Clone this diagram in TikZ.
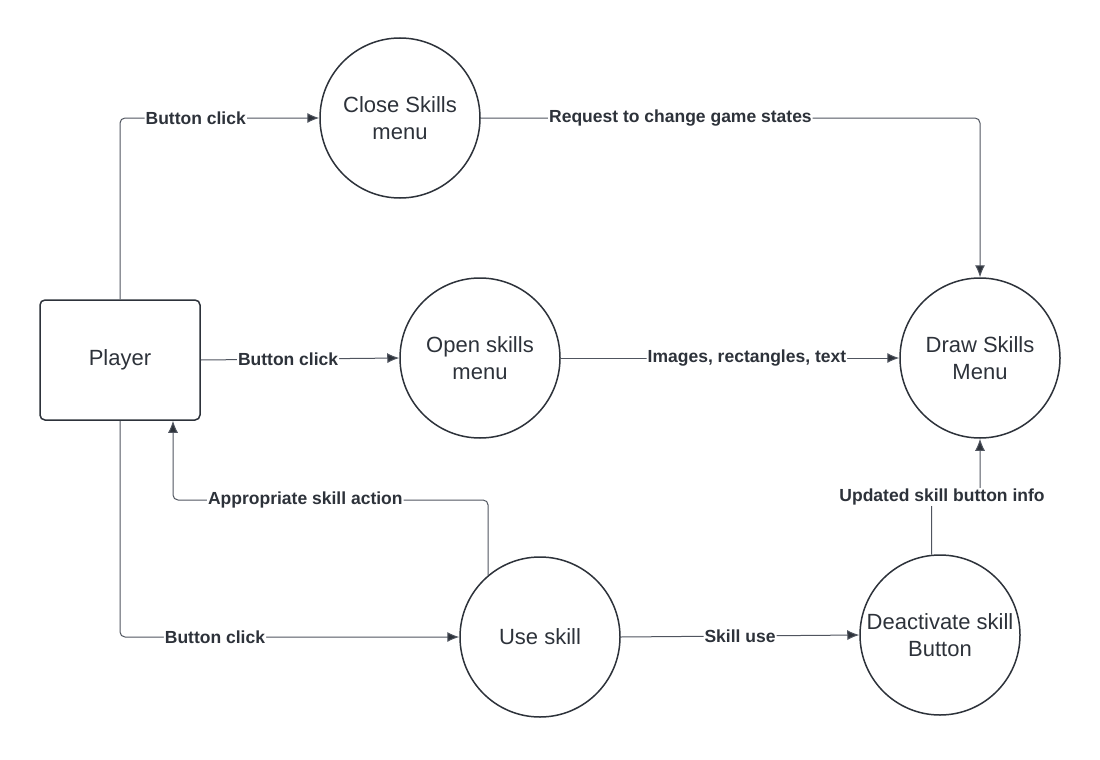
\documentclass[tikz,border=0pt]{standalone}
\usepackage{fontspec}
\setmainfont{Liberation Sans}
\usetikzlibrary{arrows.meta}
\definecolor{ink}{RGB}{45,50,58}
\definecolor{wire}{RGB}{80,85,95}
\tikzset{
  proc/.style={circle, draw=ink, line width=1.5pt, minimum size=160pt,
    inner sep=0pt, align=center, text=ink,
    font=\fontsize{22}{27}\selectfont},
  actor/.style={draw=ink, line width=1.5pt, rounded corners=5pt,
    minimum width=160pt, minimum height=120pt, text=ink,
    font=\fontsize{22}{27}\selectfont},
  flow/.style={draw=wire, line width=1pt, rounded corners=5pt,
    -{Latex[length=12pt,width=10pt,fill=ink]}},
  lbl/.style={fill=white, inner sep=1pt, text=ink,
    font=\fontsize{17.5}{20}\selectfont\bfseries}
}
\begin{document}
\begin{tikzpicture}[x=1pt, y=-1pt]
  \useasboundingbox (0,0) rectangle (1100,760);

  % Actor y procesos
  \node[actor] (player) at (120,360) {Player};
  \node[proc] (close) at (400,118) {Close Skills\\menu};
  \node[proc] (open) at (480,358) {Open skills\\menu};
  \node[proc] (drawmenu) at (980,358) {Draw Skills\\Menu};
  \node[proc] (use) at (540,637) {Use skill};
  \node[proc] (deact) at (940,635) {Deactivate skill\\Button};

  % Puntos de quiebre
  \coordinate (ret) at ([xshift=53pt]player.south);
  \coordinate (bend) at (173,500);
  \coordinate (up) at (956,497);

  % Flujos desde el jugador
  \draw[flow] (player.north) |- (close.west)
        node[lbl, pos=0.69] (lclose) {Button click};
  \draw[flow] (player.east) -- (open.west)
        node[lbl, pos=0.44] (lopen) {Button click};
  \draw[flow] (player.south) |- (use.west)
        node[lbl, pos=0.64] (luse) {Button click};

  % Flujos hacia el menu
  \draw[flow] (close.east) -| (drawmenu.north)
        node[lbl, pos=0.2] (lstate) {Request to change game states};
  \draw[flow] (open.east) -- (drawmenu.west)
        node[lbl, pos=0.55] (limg) {Images, rectangles, text};
  \draw[flow] (deact.96) |- (up) -| (drawmenu.south);
  \node[lbl] (lupd) at (942,497) {Updated skill button info};

  % Uso de habilidad
  \draw[flow] (use.east) -- (deact.west)
        node[lbl, midway] (lskill) {Skill use};
  \draw[flow] (use.130) |- (bend)
        node[lbl, pos=0.79] (lact) {Appropriate skill action}
        -- (ret);
\end{tikzpicture}
\end{document}
